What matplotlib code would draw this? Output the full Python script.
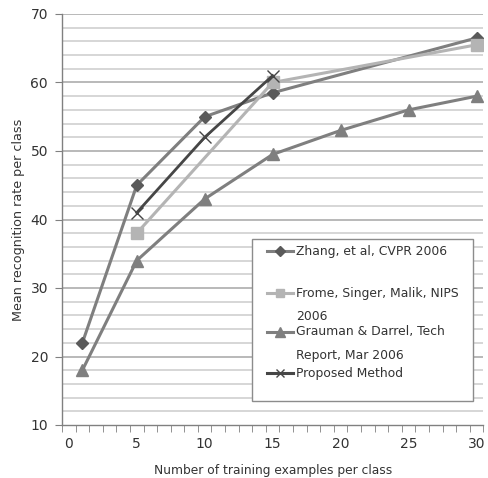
import matplotlib
matplotlib.use("Agg")
import matplotlib.pyplot as plt
from matplotlib.lines import Line2D
from matplotlib.patches import Rectangle
import numpy as np

plt.rcParams['font.family'] = ['DejaVu Sans']

# Data
zhang_x = [1, 5, 10, 15, 30]
zhang_y = [22, 45, 55, 58.5, 66.5]
frome_x = [5, 15, 30]
frome_y = [38, 60, 65.5]
grauman_x = [1, 5, 10, 15, 20, 25, 30]
grauman_y = [18, 34, 43, 49.5, 53, 56, 58]
proposed_x = [5, 10, 15]
proposed_y = [41, 52, 61]

labels = ["Zhang, et al, CVPR 2006",
          "Frome, Singer, Malik, NIPS\n2006",
          "Grauman & Darrel, Tech\nReport, Mar 2006",
          "Proposed Method"]
xticks = [0, 5, 10, 15, 20, 25, 30]
yticks = [10, 20, 30, 40, 50, 60, 70]

fig = plt.figure(figsize=(4.89, 4.78), dpi=100)
ax = fig.add_axes([62/489, 1-425/478, (483.3-62)/489, (425-14)/478])

# gridlines
for v in np.arange(12, 71, 2):
    major = (v % 10 == 0)
    ax.axhline(v, color='#a6a6a6' if major else '#cccccc', lw=1.1, zorder=0)

c_zhang_line = '#7f7f7f'
c_zhang_mk = '#5a5a5a'
c_frome = '#b4b4b4'
c_grau = '#7f7f7f'
c_prop = '#464646'

ax.plot(zhang_x, zhang_y, color=c_zhang_line, lw=2.2, marker='D', ms=6.5,
        mfc=c_zhang_mk, mec=c_zhang_mk, zorder=3)
ax.plot(frome_x, frome_y, color=c_frome, lw=2.2, marker='s', ms=8,
        mfc=c_frome, mec=c_frome, zorder=3)
ax.plot(grauman_x, grauman_y, color=c_grau, lw=2.2, marker='^', ms=8.5,
        mfc=c_grau, mec=c_grau, zorder=3)
ax.plot(proposed_x, proposed_y, color=c_prop, lw=2.0, marker='x', ms=8,
        mew=1.0, zorder=4)

ax.set_xlim(-0.5, 30.5)
ax.set_ylim(10, 70)
for s in ['top', 'right']:
    ax.spines[s].set_visible(False)
for s in ['left', 'bottom']:
    ax.spines[s].set_color('#808080')
    ax.spines[s].set_linewidth(1.0)

ax.set_xticks(xticks)
ax.set_xticklabels([str(t) for t in xticks])
ax.tick_params(axis='x', length=0, pad=9, labelsize=10, colors='#333333')
ax.set_xticks(np.arange(-0.5, 31, 1.0), minor=True)
ax.tick_params(axis='x', which='minor', length=5, direction='out', color='#808080')
ax.set_yticks(yticks)
ax.tick_params(axis='y', length=5, direction='out', labelsize=10, pad=5)
ax.tick_params(axis='y', colors='#808080', labelcolor='#333333')

ax.set_xlabel("Number of training examples per class", fontsize=8.8, color='#333333', labelpad=9)
ax.set_ylabel("Mean recognition rate per class", fontsize=9.2, color='#333333', labelpad=4)

# Legend (manual)
def fx(px):
    return px / 489
def fy(py):
    return 1 - py / 478
fig.patches.append(Rectangle((fx(252), fy(401)), fx(473) - fx(252), fy(239) - fy(401),
                             transform=fig.transFigure, facecolor='white',
                             edgecolor='#8c8c8c', lw=1.0, zorder=5))
entries = [
    (251, c_zhang_line, 'D', c_zhang_mk, 5, labels[0].split('\n')),
    (293, c_frome, 's', c_frome, 6, labels[1].split('\n')),
    (332, c_grau, '^', c_grau, 6.5, labels[2].split('\n')),
    (373, c_prop, 'x', c_prop, 6, labels[3].split('\n')),
]
for py, lc, mk, mc, ms, lines in entries:
    ln = Line2D([fx(267), fx(293)], [fy(py), fy(py)], transform=fig.transFigure,
                color=lc, lw=2.2, zorder=6)
    fig.lines.append(ln)
    mkl = Line2D([fx(280)], [fy(py)], transform=fig.transFigure, marker=mk, ms=ms,
                 mfc=mc, mec=mc, color=mc, mew=1.0, ls='none', zorder=7)
    fig.lines.append(mkl)
    fig.text(fx(296), fy(py), lines[0], fontsize=8.9, color='#333333',
             va='center', ha='left', zorder=8)
    if len(lines) > 1:
        fig.text(fx(296), fy(py + 23), lines[1], fontsize=8.9, color='#333333',
                 va='center', ha='left', zorder=8)

fig.savefig("out.png", dpi=100)
